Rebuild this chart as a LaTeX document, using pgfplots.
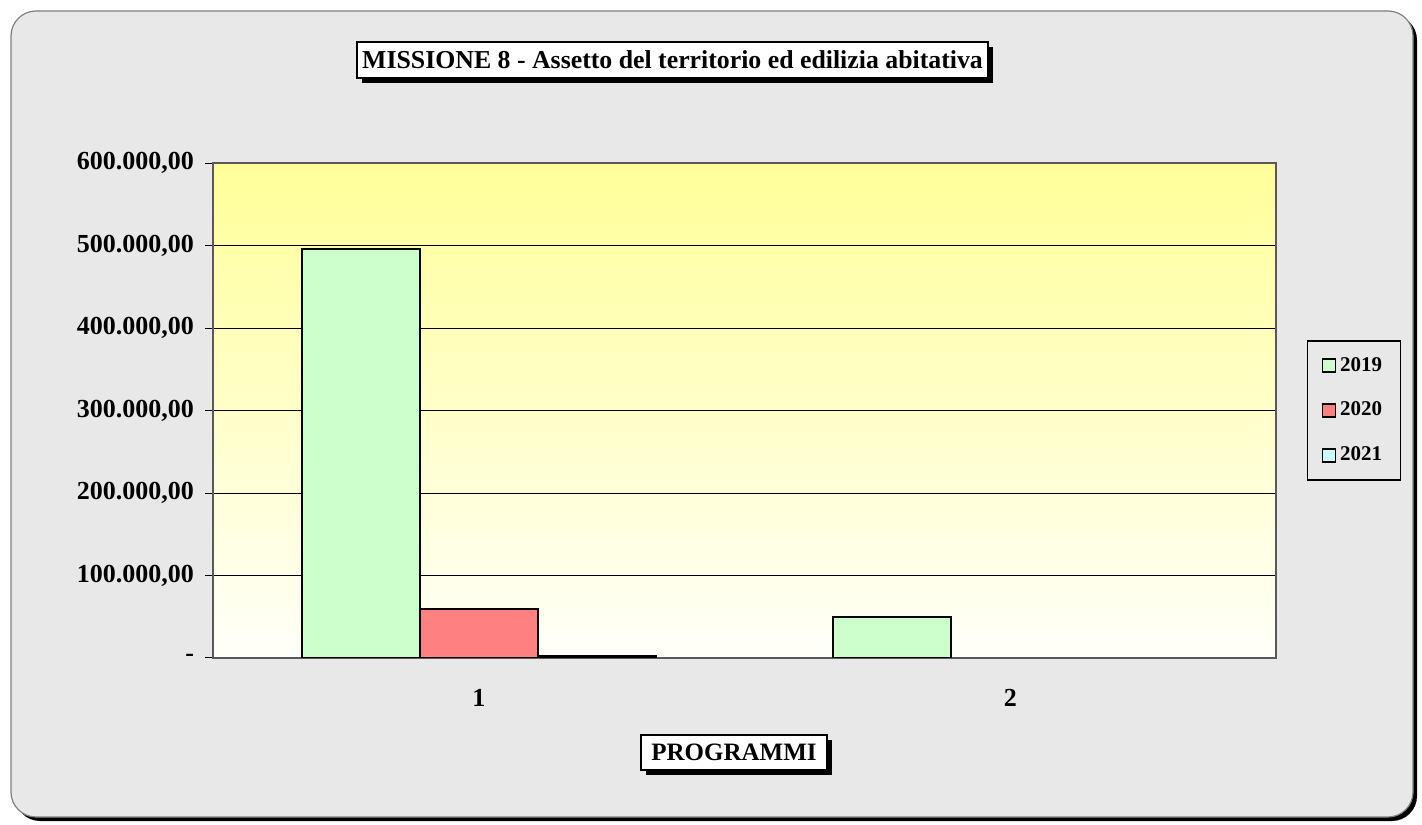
\documentclass[border=0pt]{standalone}
\usepackage{pgfplots}
\pgfplotsset{compat=1.18}
\usepackage{fontspec}
\setmainfont{Liberation Serif}
\usetikzlibrary{shadows}
\definecolor{c19}{RGB}{204,255,204}
\definecolor{c20}{RGB}{255,128,128}
\definecolor{c21}{RGB}{204,255,255}
\definecolor{bg}{RGB}{232,232,232}
\definecolor{yel}{RGB}{255,255,153}
\definecolor{cream}{RGB}{255,255,250}
\pgfplotsset{sqleg/.style={legend image code/.code={\draw[##1,line width=0.8pt,draw=black] (0pt,-3.2pt) rectangle (6.4pt,3.2pt);}}}
\begin{document}
\begin{tikzpicture}[x=0.5pt,y=0.5pt]
\useasboundingbox (0,0) rectangle (1422,824);
\fill[black, rounded corners=12.5pt] (15,3) rectangle (1417,809);
\filldraw[fill=bg, draw=gray, line width=0.6pt, rounded corners=12.5pt] (11,7) rectangle (1413,813);
\begin{axis}[
 at={(106.5pt,83pt)}, anchor=south west,
 width=531.5pt, height=247.5pt, scale only axis,
 xmin=0.5, xmax=2.5, ymin=0, ymax=600000,
 ybar=0pt, bar width=59pt,
 scaled y ticks=false,
 ytick pos=left, xtick pos=bottom,
 axis background/.style={top color=yel, bottom color=cream},
 axis line style={gray!70!black, line width=0.6pt},
 ymajorgrids, grid style={black, line width=0.5pt},
 tick align=outside, major tick length=4pt,
 ytick={0,100000,200000,300000,400000,500000,600000},
 yticklabels={{\textbf{-}\hspace{21pt}},{\textbf{100.000,00}},{\textbf{200.000,00}},{\textbf{300.000,00}},{\textbf{400.000,00}},{\textbf{500.000,00}},{\textbf{600.000,00}}},
 ytick style={black, line width=0.5pt},
 yticklabel style={font=\fontsize{13}{15}\selectfont, xshift=-2pt},
 xtick={1,2}, xticklabels={\textbf{1},\textbf{2}},
 xtick style={draw=none},
 xticklabel style={font=\fontsize{13}{15}\selectfont, yshift=-8pt},
 extra x ticks={0.5,1.5,2.5}, extra x tick labels={},
 extra x tick style={tick style={black, line width=0.5pt, draw=black}, major tick length=4pt},
 legend style={at={(1.0734,0.5)}, anchor=center, draw=black, fill=none, line width=0.6pt,
   font=\bfseries\fontsize{10.5}{12}\selectfont, row sep=10pt, inner xsep=7pt, inner ysep=6pt,
   cells={anchor=west}},
]
\addplot[fill=c19, draw=black, line width=0.8pt, sqleg] coordinates {(1,496000) (2,50000)};
\addplot[fill=c20, draw=black, line width=0.8pt, sqleg] coordinates {(1,59500)};
\addplot[fill=c21, draw=black, line width=0.8pt, sqleg] coordinates {(1,2500)};
\legend{2019,2020,2021}
\end{axis}
\node[draw=black, fill=white, line width=0.6pt, minimum width=315.5pt, minimum height=18pt, inner sep=0pt,
  general shadow={fill=black, shadow xshift=2.5pt, shadow yshift=-2.5pt},
  font=\bfseries\fontsize{12.9}{15}\selectfont] at (672.5,764) {MISSIONE 8 - Assetto del territorio ed edilizia abitativa};
\node[draw=black, fill=white, line width=0.6pt, minimum width=93pt, minimum height=17.5pt, inner sep=0pt,
  general shadow={fill=black, shadow xshift=2.5pt, shadow yshift=-2.5pt},
  font=\bfseries\fontsize{12.5}{15}\selectfont] at (734,71.5) {PROGRAMMI};
\end{tikzpicture}
\end{document}
